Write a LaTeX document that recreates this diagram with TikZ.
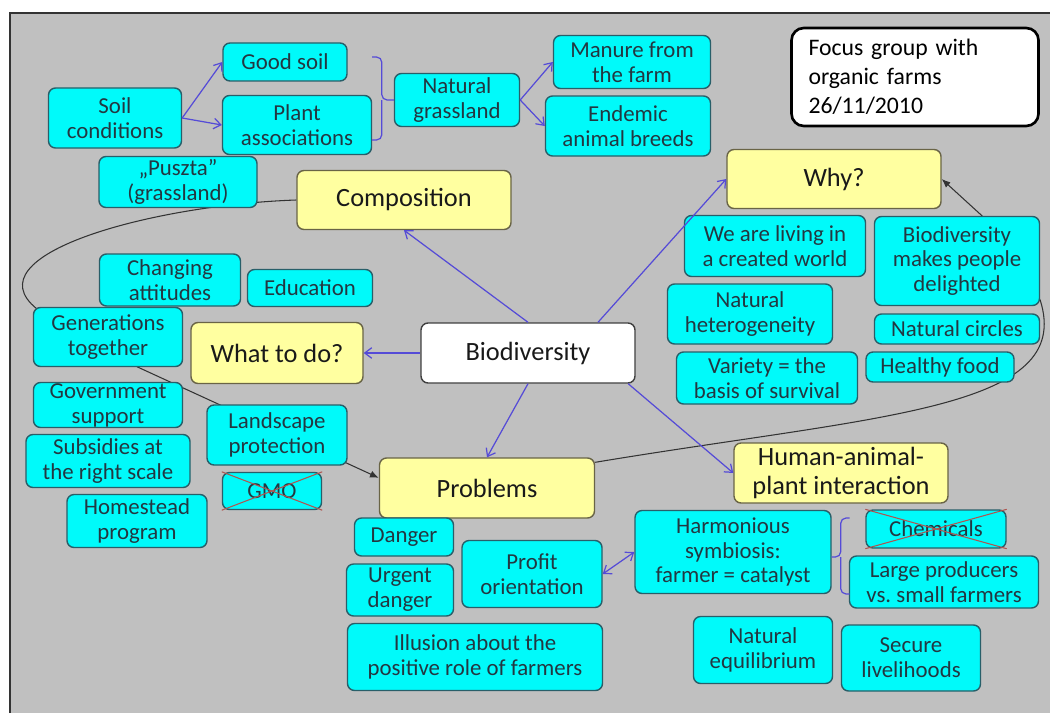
\documentclass[tikz,border=0pt]{standalone}
\usepackage{fontspec}
\setmainfont{Carlito}
\usepackage{tikz}
\usetikzlibrary{arrows.meta}
\usetikzlibrary{calc}
\pgfdeclarelayer{background}
\pgfsetlayers{background,main}
\definecolor{panelgray}{RGB}{192,192,192}
\definecolor{leaffill}{RGB}{0,250,250}
\definecolor{leafline}{RGB}{40,95,105}
\definecolor{leaftext}{RGB}{35,55,65}
\definecolor{topicfill}{RGB}{255,255,160}
\definecolor{topicline}{RGB}{105,100,70}
\definecolor{topictext}{RGB}{25,25,25}
\definecolor{linkblue}{RGB}{85,75,215}
\definecolor{strikered}{RGB}{175,85,80}
\newcommand{\leaffont}{\fontsize{13}{14.2}\selectfont}
\newcommand{\topicfont}{\fontsize{15}{16}\selectfont}
\frenchspacing

\begin{document}
\begin{tikzpicture}[x=0.02cm, y=-0.02cm,
    sz/.style 2 args={minimum width=#1*0.02cm, minimum height=#2*0.02cm},
    leaf/.style={draw=leafline, fill=leaffill, line width=0.8pt, rounded corners=4pt,
      inner sep=0pt, align=center, text=leaftext, font=\leaffont},
    topic/.style={leaf, draw=topicline, fill=topicfill, text=topictext, font=\topicfont},
    link/.style={draw=linkblue, line width=0.7pt, -{Straight Barb[length=4pt,width=6pt]}},
    thread/.style={draw=black!80, line width=0.6pt},
    bracket/.style={draw=linkblue, line width=0.7pt, rounded corners=3pt},
    strike/.style={draw=strikered, line width=0.6pt}]

    \useasboundingbox (0,0) rectangle (1050,713);

    % soil and grassland cluster
    \node[leaf, sz={133}{60}] (soil) at (115,118) {Soil\\conditions};
    \node[leaf, sz={124}{38}] (good) at (285,62) {Good soil};
    \node[leaf, sz={149}{59}] (plant) at (297,125) {Plant\\associations};
    \node[leaf, sz={158}{51}] (puszta) at (178,182) {„Puszta”\\(grassland)};
    \node[leaf, sz={125}{53}] (grass) at (457,100) {Natural\\grassland};
    \node[leaf, sz={157}{53}] (manure) at (632,62) {Manure from\\the farm};
    \node[leaf, sz={165}{60}] (endemic) at (628,126) {Endemic\\animal breeds};
    \node[draw=black, fill=white, line width=1.5pt, rounded corners=7pt,
      inner sep=0pt, inner xsep=17*0.02cm, text width=213*0.02cm,
      minimum height=98*0.02cm, align=left, font=\fontsize{13.5}{16.5}\selectfont]
      (focus) at (915,77) {Focus group with\\organic farms\\26/11/2010};

    % main topics
    \node[topic, sz={214}{59}] (comp) at (404,200) {Composition};
    \node[topic, sz={214}{59}] (why) at (834,179) {Why?};
    \node[topic, sz={172}{61}] (what) at (277,353) {What to do?};
    \node[topic, sz={215}{60}] (prob) at (487,488) {Problems};
    \node[topic, sz={214}{60}] (human) at (841,473) {Human-animal-\\plant interaction};
    \node[topic, draw=black!75, fill=white, sz={214}{60}] (bio) at (528,353) {Biodiversity};

    % why?
    \node[leaf, sz={181}{61}] (living) at (775,246) {We are living in\\a created world};
    \node[leaf, sz={165}{89}] (delight) at (957,261) {Biodiversity\\makes people\\delighted};
    \node[leaf, sz={165}{60}] (hetero) at (750,314) {Natural\\heterogeneity};
    \node[leaf, sz={165}{30}] (circles) at (957,329) {Natural circles};
    \node[leaf, sz={181}{52}] (variety) at (767,378) {Variety = the\\basis of survival};
    \node[leaf, sz={148}{30}] (food) at (940,367) {Healthy food};

    % what to do?
    \node[leaf, sz={141}{52}] (change) at (170,280) {Changing\\attitudes};
    \node[leaf, sz={125}{37}] (edu) at (310,288) {Education};
    \node[leaf, sz={149}{59}] (gener) at (108,337) {Generations\\together};
    \node[leaf, sz={149}{45}] (gov) at (108,405) {Government\\support};
    \node[leaf, sz={164}{53}] (subs) at (108,461) {Subsidies at\\the right scale};
    \node[leaf, sz={140}{53}] (home) at (137,521) {Homestead\\program};
    \node[leaf, sz={140}{60}] (land) at (277,435) {Landscape\\protection};
    \node[leaf, sz={99}{37}] (gmo) at (272,491) {GMO};

    % problems and interaction
    \node[leaf, sz={99}{38}] (danger) at (404,537) {Danger};
    \node[leaf, sz={107}{52}] (urgent) at (400,590) {Urgent\\danger};
    \node[leaf, sz={140}{67}] (profit) at (532,574) {Profit\\orientation};
    \node[leaf, sz={196}{83}] (harm) at (733,552) {Harmonious\\symbiosis:\\farmer = catalyst};
    \node[leaf, sz={140}{38}] (chem) at (936,529) {Chemicals};
    \node[leaf, sz={189}{52}] (large) at (944,582) {Large producers\\vs. small farmers};
    \node[leaf, sz={255}{67}] (illusion) at (475,657) {Illusion about the\\positive role of farmers};
    \node[leaf, sz={139}{67}] (equil) at (763,650) {Natural\\equilibrium};
    \node[leaf, sz={139}{66}] (secure) at (911,658) {Secure\\livelihoods};

    % crossed out
    \draw[strike] (gmo.north west) -- (gmo.south east);
    \draw[strike] (gmo.south west) -- (gmo.north east);
    \draw[strike] (chem.north west) -- (chem.south east);
    \draw[strike] (chem.south west) -- (chem.north east);

    % blue links
    \draw[link] (soil.east) -- (good.west);
    \draw[link] (soil.east) -- (plant.west);
    \draw[link] (grass.east) -- (manure.west);
    \draw[link] (grass.east) -- (endemic.west);
    \draw[link] (bio.north) -- (comp.south);
    \draw[link] ($(bio.north)!0.65!(bio.north east)$) -- (why.west);
    \draw[link] (bio.west) -- (what.east);
    \draw[link] (bio.south) -- (prob.north);
    \draw[link] ($(bio.south)!0.93!(bio.south east)$) -- (human.west);
    \draw[link, {Straight Barb[length=4pt,width=6pt]}-{Straight Barb[length=4pt,width=6pt]}]
      (profit.east) -- (harm.west);

    % brackets
    \draw[bracket] ($(plant.east)+(0,-68)$) -| ($(grass.west)+(-12,0)$) -- (grass.west);
    \draw[bracket] ($(plant.east)+(0,15)$) -| ($(grass.west)+(-12,0)$);
    \draw[bracket] ($(harm.east)+(18,-34)$) -| ($(harm.east)+(9,5)$) -- ($(harm.east)+(0,5)$);
    \draw[bracket] ($(harm.east)+(18,42)$) -| ($(harm.east)+(9,5)$);

    \begin{pgfonlayer}{background}
      \fill[panelgray] (10,13) rectangle (1050,713);
      \draw[black!80, line width=0.9pt] (10,713) -- (10,13) -- (1050,13);
      % black threads, partly hidden behind boxes
      \draw[thread, -{Latex[length=5pt,width=4pt]}] (comp.west)
        .. controls (150,205) and (-30,255) .. ($(gener.north west)+(4,2)$)
        -- ($(gener.south)+(30,0)$) -- ($(prob.north west)!0.67!(prob.west)$);
      \draw[thread, -{Latex[length=5pt,width=4pt]}] ($(prob.north east)+(0,5)$)
        .. controls (880,415) and (1075,410) .. ($(delight.south east)+(0,-6)$)
        -- ($(delight.north)+(25,0)$) -- (why.east);
    \end{pgfonlayer}

\end{tikzpicture}
\end{document}
